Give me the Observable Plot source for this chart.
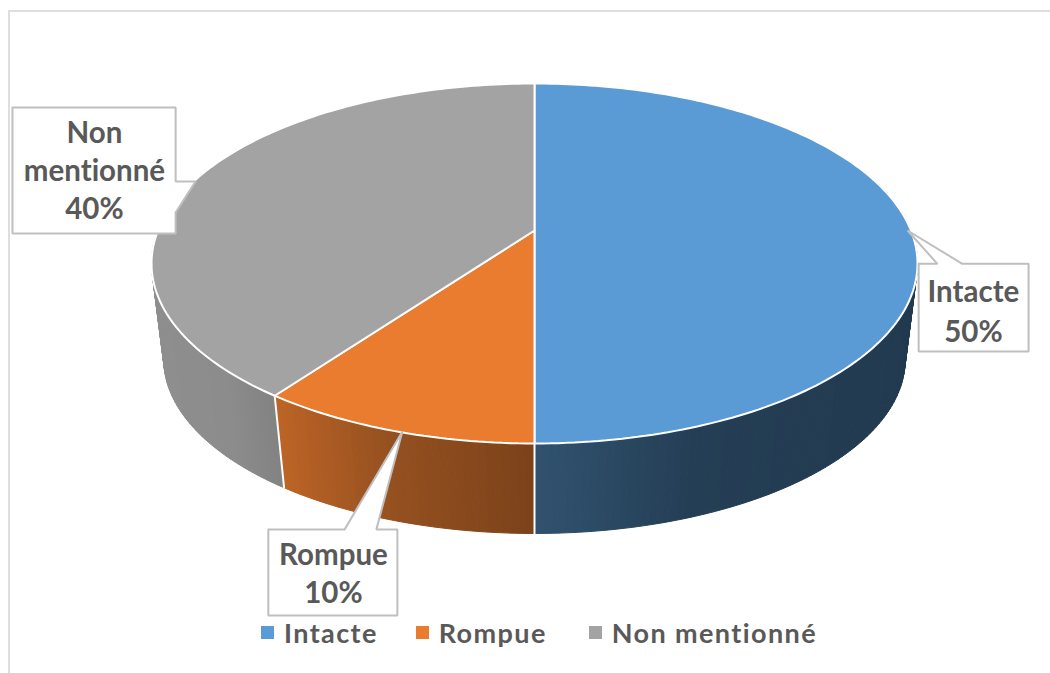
<!DOCTYPE html>
<html lang="fr">
<head>
<meta charset="utf-8">
<script src="https://cdn.jsdelivr.net/npm/d3@7"></script>
<script src="https://cdn.jsdelivr.net/npm/@observablehq/plot@0.6"></script>
<style>
  html, body { margin: 0; padding: 0; background: #fff; }
  #page { position: relative; width: 1050px; height: 673px; overflow: hidden; font-family: Lato, "Open Sans", sans-serif; font-variant-ligatures: none; }
  #frame { position: absolute; left: 8px; top: 10px; right: 0; bottom: 0; border-left: 2px solid #dedede; border-top: 2px solid #dedede; }
  #chart { position: absolute; left: 0; top: 0; }
  #chart text { font-variant-ligatures: none; }
  #legend { position: absolute; left: 261px; top: 613px; display: flex; align-items: center; height: 38px;
            font-size: 27px; font-weight: 700; color: #595959; letter-spacing: 1.4px; white-space: nowrap; }
  #legend .sw { width: 13px; height: 13px; margin-right: 10px; display: inline-block; }
  #legend .it { display: flex; align-items: center; margin-right: 38px; }
  #legend .it:nth-child(2) { margin-right: 42px; }
</style>
</head>
<body>
<div id="page">
  <div id="frame"></div>
  <div id="chart"></div>
  <div id="legend"></div>
</div>
<script>
// Data
const categories = ["Intacte", "Rompue", "Non mentionné"];
const values = [50, 10, 40];
const colors = ["#5b9bd5", "#ea7c2f", "#a3a3a3"];
const sideStops = [
  [["#31526f", "#243e55", "#223a4f"], [0, 0.42, 1]],
  [["#bd6426", "#94501f", "#7c421a"], [0, 0.45, 1]],
  [["#8e8e8e", "#8c8c8c", "#828282"], [0, 0.6, 1]]
];
const labelLines = [["Intacte", "50%"], ["Rompue", "10%"], ["Non", "mentionné", "40%"]];

// Callout layout, in chart units
const callouts = [
  {l: 1.003, r: 1.290, t: -0.087, b: -0.316, tip: [0.974, 0], base: [1.052, 1.117], cx: 1.146, cy: -0.205, lh: 1.38},
  {l: -0.695, r: -0.358, t: -0.781, b: -1.005, tip: [-0.345, -0.525], base: [-0.496, -0.413], cx: -0.525, cy: -0.891, lh: 1.28},
  {l: -1.363, r: -0.937, t: 0.321, b: -0.008, tip: [-0.885, 0.128], side: [0.128, 0.047], cx: -1.149, cy: 0.161, lh: 1.29}
];

// Perspective view of the pie disc: z = 0 is the top face, z = 1 the bottom face
const view = {a: 0.983, b: 0.4542, c: 0.2559, k: 0.1833, m: 0.032};
function project(theta, z) {
  const X = Math.sin(theta), Y = -Math.cos(theta);
  const w = 1 - view.k * Y + view.m * z;
  return {x: view.a * X / w, y: -(view.b * Y / w + view.c * z)};
}

const total = d3.sum(values);
let cum = 0;
const slices = categories.map((name, i) => {
  const start = (cum / total) * 2 * Math.PI;
  cum += values[i];
  return {name, i, start, end: (cum / total) * 2 * Math.PI};
});

// Top faces: closed outlines from the centre round the arc
const STEP = Math.PI / 180;
const topPts = slices.flatMap(s => {
  const n = Math.ceil((s.end - s.start) / STEP);
  const arc = d3.range(n + 1).map(j => project(s.start + (s.end - s.start) * j / n, 0));
  const c = {x: 0, y: 0};
  return [c, ...arc, c].map(p => ({...p, name: s.name, fill: colors[s.i]}));
});

// Rim: narrow strips, shaded along the chart's x direction
const strips = slices.flatMap(s => {
  const n = Math.ceil((s.end - s.start) / STEP);
  const arcPts = d3.range(n + 1).map(j => s.start + (s.end - s.start) * j / n);
  const px = arcPts.filter(t => -Math.cos(t) > -0.2).map(t => project(t, 0).x);
  const [lo, hi] = d3.extent(px);
  const [cs, st] = sideStops[s.i];
  const shade = d3.scaleLinear().domain(st.map(v => lo + (hi - lo) * v)).range(cs).clamp(true);
  return d3.range(n).filter(j => -Math.cos(arcPts[j]) > -0.35).map(j => {
    const t0 = arcPts[j], t1 = arcPts[j + 1], tm = (t0 + t1) / 2;
    return {id: `${s.i}-${j}`, depth: -Math.cos(tm), fill: shade(project(tm, 0).x),
            pts: [project(t0, 0), project(t1, 0), project(t1, 1), project(t0, 1), project(t0, 0)]};
  });
}).sort((a, b) => d3.ascending(a.depth, b.depth));
const stripPts = strips.flatMap(s => s.pts.map(p => ({...p, id: s.id, fill: s.fill})));

// White seams down the rim where front slices meet
const seams = slices.map(s => s.start).filter(t => -Math.cos(t) > 0)
  .flatMap((t, i) => [project(t, 0), project(t, 1)].map(p => ({...p, id: i})));

// Callout outlines
const boxPts = callouts.flatMap((c, i) => {
  const pts = c.side
    ? [[c.l, c.t], [c.r, c.t], [c.r, c.side[0]], c.tip, [c.r, c.side[1]], [c.r, c.b], [c.l, c.b], [c.l, c.t]]
    : [[c.l, c.t], [c.base[0], c.t], c.tip, [c.base[1], c.t], [c.r, c.t], [c.r, c.b], [c.l, c.b], [c.l, c.t]];
  return pts.map(([x, y]) => ({x, y, id: i}));
});

const W = 1050, H = 620;
const plot = Plot.plot({
  width: W, height: H,
  margin: 0,
  style: {background: "transparent"},
  x: {axis: null, domain: [-534 / 383, 516 / 383], range: [0, W]},
  y: {axis: null, domain: [-390 / 383, 230 / 383], range: [H, 0]},
  marks: [
    Plot.line(stripPts, {x: "x", y: "y", z: "id", fill: "fill", stroke: "fill", strokeWidth: 1, curve: "linear"}),
    Plot.line(seams, {x: "x", y: "y", z: "id", stroke: "#fff", strokeWidth: 2, curve: "linear"}),
    Plot.line(topPts, {x: "x", y: "y", z: "name", fill: "fill", stroke: "#fff", strokeWidth: 2, curve: "linear", strokeLinejoin: "miter"}),
    Plot.line(boxPts, {x: "x", y: "y", z: "id", fill: "#fff", stroke: "#bfbfbf", strokeWidth: 2, curve: "linear", strokeLinejoin: "miter"}),
    ...callouts.map((c, i) => Plot.text([labelLines[i].join("\n")], {
      x: () => c.cx, y: () => c.cy, text: d => d,
      fontFamily: "Lato, sans-serif", fontWeight: 700, fontSize: 29.5, fill: "#595959",
      lineHeight: c.lh, textAnchor: "middle"
    }))
  ]
});
document.getElementById("chart").appendChild(plot);

const legend = d3.select("#legend");
categories.forEach((name, i) => {
  const it = legend.append("span").attr("class", "it");
  it.append("span").attr("class", "sw").style("background", colors[i]);
  it.append("span").text(name);
});
</script>
</body>
</html>
